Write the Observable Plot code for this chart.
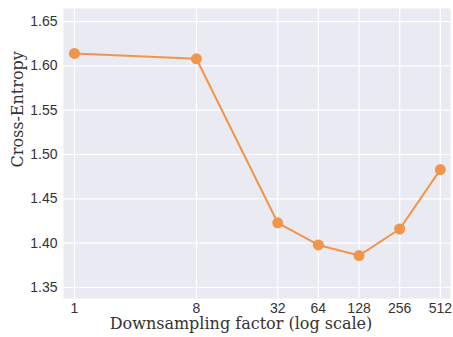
<!DOCTYPE html>
<html><head><meta charset="utf-8">
<script src="https://cdn.jsdelivr.net/npm/d3@7"></script>
<script src="https://cdn.jsdelivr.net/npm/@observablehq/plot@0.6"></script>
<style>body{margin:0;background:#fff}</style>
</head><body><div id="chart"></div>
<script>
const factors = [1, 8, 32, 64, 128, 256, 512];
const crossEntropy = [1.614, 1.608, 1.423, 1.398, 1.386, 1.416, 1.483];
const xTicks = [1, 8, 32, 64, 128, 256, 512];
const yTicks = [1.35, 1.40, 1.45, 1.50, 1.55, 1.60, 1.65];
const data = factors.map((f, i) => ({f, v: crossEntropy[i]}));
const orange = "#F0954A";
const chart = Plot.plot({
  width: 453, height: 337,
  marginLeft: 63, marginRight: 3, marginTop: 8, marginBottom: 39,
  style: {fontFamily: "Liberation Sans, Arial, sans-serif", fontSize: "14px", color: "#333", background: "#fff"},
  x: {type: "log", base: 2, domain: [0.83, 609], ticks: xTicks, tickFormat: d => String(d), label: null, tickSize: 0, tickPadding: 5},
  y: {domain: [1.3376, 1.6647], ticks: yTicks, tickFormat: d => d.toFixed(2), label: null, tickSize: 0, tickPadding: 6},
  marks: [
    Plot.frame({fill: "#EAEAF2", stroke: null}),
    Plot.gridX(xTicks, {stroke: "#fff", strokeOpacity: 1, strokeWidth: 1.2}),
    Plot.gridY(yTicks, {stroke: "#fff", strokeOpacity: 1, strokeWidth: 1.2}),
    Plot.axisX({ticks: xTicks, tickFormat: d => String(d), tickSize: 0, tickPadding: 5, label: null, fontSize: 14}),
    Plot.axisY({ticks: yTicks, tickFormat: d => d.toFixed(2), tickSize: 0, tickPadding: 6, label: null, fontSize: 14}),
    Plot.line(data, {x: "f", y: "v", stroke: orange, strokeWidth: 2}),
    Plot.dot(data, {x: "f", y: "v", fill: orange, r: 5.5, stroke: null}),
    Plot.text(["Downsampling factor (log scale)"], {frameAnchor: "bottom", dx: -16, dy: 30, fontFamily: "DejaVu Serif, serif", fontSize: 16, fill: "#333"}),
    Plot.text(["Cross-Entropy"], {frameAnchor: "left", dx: -46, dy: 14, rotate: -90, fontFamily: "DejaVu Serif, serif", fontSize: 16, fill: "#333"})
  ]
});
document.getElementById("chart").append(chart);
</script></body></html>
